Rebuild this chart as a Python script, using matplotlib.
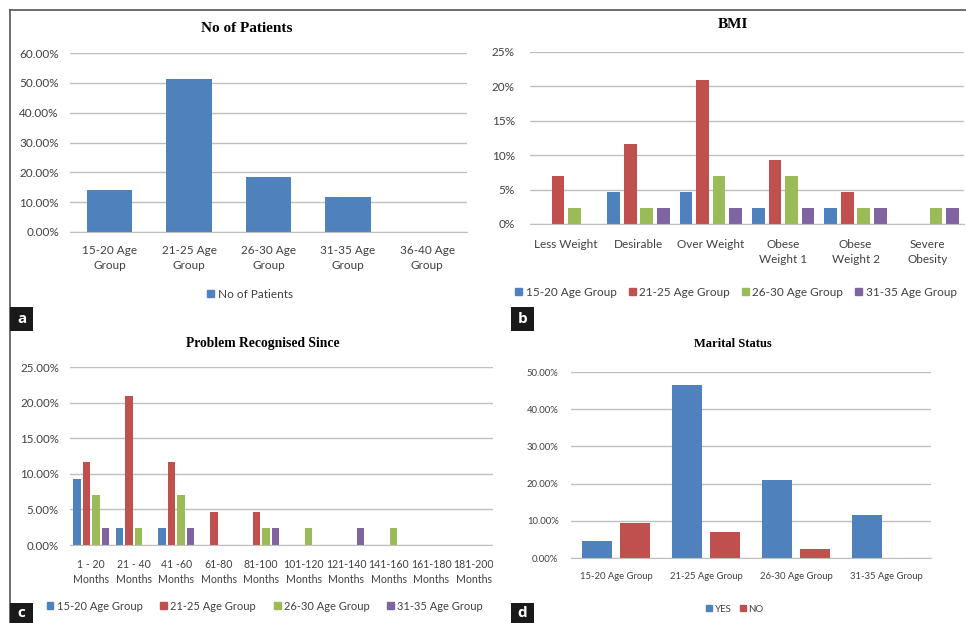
import matplotlib
matplotlib.use("Agg")
import matplotlib.pyplot as plt
from matplotlib.patches import Patch, Rectangle
from matplotlib.lines import Line2D
import numpy as np

W, H = 966, 623

# ---- data (percent of patients, n = 43) ----
age_groups_a = ['15-20 Age\nGroup', '21-25 Age\nGroup', '26-30 Age\nGroup', '31-35 Age\nGroup', '36-40 Age\nGroup']
patients = [13.95, 51.16, 18.60, 11.63, 0.0]

series_names = ['15-20 Age Group', '21-25 Age Group', '26-30 Age Group', '31-35 Age Group']

bmi_cats = ['Less Weight', 'Desirable', 'Over Weight', 'Obese\nWeight 1', 'Obese\nWeight 2', 'Severe\nObesity']
bmi_15_20 = [0.0, 4.65, 4.65, 2.33, 2.33, 0.0]
bmi_21_25 = [6.98, 11.63, 20.93, 9.30, 4.65, 0.0]
bmi_26_30 = [2.33, 2.33, 6.98, 6.98, 2.33, 2.33]
bmi_31_35 = [0.0, 2.33, 2.33, 2.33, 2.33, 2.33]

prob_cats = ['1 - 20\nMonths', '21 - 40\nMonths', '41 -60\nMonths', '61-80\nMonths', '81-100\nMonths',
             '101-120\nMonths', '121-140\nMonths', '141-160\nMonths', '161-180\nMonths', '181-200\nMonths']
prob_15_20 = [9.30, 2.33, 2.33, 0, 0, 0, 0, 0, 0, 0]
prob_21_25 = [11.63, 20.93, 11.63, 4.65, 4.65, 0, 0, 0, 0, 0]
prob_26_30 = [6.98, 2.33, 6.98, 0, 2.33, 2.33, 0, 2.33, 0, 0]
prob_31_35 = [2.33, 0, 2.33, 0, 2.33, 0, 2.33, 0, 0, 0]

marital_cats = ['15-20 Age Group', '21-25 Age Group', '26-30 Age Group', '31-35 Age Group']
married_yes = [4.65, 46.51, 20.93, 11.63]
married_no = [9.30, 6.98, 2.33, 0.0]

colors = ['#4F81BD', '#C0504D', '#9BBB59', '#8064A2']
grid_c = '#BFBFBF'
txt_c = '#404040'

plt.rcParams['font.family'] = ['Lato', 'DejaVu Sans']
serif = ['Liberation Serif', 'DejaVu Serif']

fig = plt.figure(figsize=(W / 100, H / 100), dpi=100)


def px_rect(l, t, r, b):
    return [l / W, 1 - b / H, (r - l) / W, (b - t) / H]


def fx(x):
    return x / W


def fy(y):
    return 1 - y / H


def style(ax, ymax, step, fmt, fs, pad_y, pad_x):
    ax.set_ylim(0, ymax)
    ticks = np.arange(0, ymax + step / 2, step)
    ax.set_yticks(ticks)
    ax.set_yticklabels([fmt % t for t in ticks], fontsize=fs, color=txt_c)
    ax.yaxis.grid(True, color=grid_c, lw=1)
    ax.set_axisbelow(True)
    for s in ['top', 'right', 'left']:
        ax.spines[s].set_visible(False)
    ax.spines['bottom'].set_color(grid_c)
    ax.tick_params(length=0)
    ax.tick_params(axis='y', pad=pad_y)
    ax.tick_params(axis='x', pad=pad_x)


def square_legend(handles, labels, cx, cy, fs, ncol=1, colsp=1.0):
    return fig.legend(handles, labels, loc='center', bbox_to_anchor=(fx(cx), fy(cy)), ncol=ncol,
                      frameon=False, fontsize=fs, handlelength=0.6, handleheight=0.6, handletextpad=0.3,
                      columnspacing=colsp, labelcolor=txt_c)


# ---- panel a ----
ax = fig.add_axes(px_rect(70, 53, 467, 232))
x = np.arange(len(age_groups_a))
ax.bar(x, patients, width=0.57, color=colors[0])
ax.set_xlim(-0.5, len(x) - 0.5)
style(ax, 60, 10, '%.2f%%', 8.5, 8, 9)
ax.set_xticks(x)
ax.set_xticklabels(age_groups_a, fontsize=8.5, color=txt_c, linespacing=1.45)
fig.text(fx(247), fy(28), 'No of Patients', ha='center', va='center', fontsize=11,
         fontweight='bold', family=serif)
square_legend([Patch(color=colors[0])], ['No of Patients'], 250, 294, 8.5)

# ---- panel b ----
ax = fig.add_axes(px_rect(530, 52, 964, 224))
x = np.arange(len(bmi_cats))
for i, vals in enumerate([bmi_15_20, bmi_21_25, bmi_26_30, bmi_31_35]):
    ax.bar(x + (i - 1.5) * 0.23, vals, width=0.175, color=colors[i])
ax.set_xlim(-0.5, len(x) - 0.5)
style(ax, 25, 5, '%d%%', 8.5, 11, 11)
ax.set_xticks(x)
ax.set_xticklabels(bmi_cats, fontsize=8.5, color=txt_c, linespacing=1.45)
fig.text(fx(733), fy(25), 'BMI', ha='center', va='center', fontsize=11, fontweight='bold', family=serif)
square_legend([Patch(color=c) for c in colors], series_names, 736, 292, 8.5, ncol=4, colsp=1.0)

# ---- panel c ----
ax = fig.add_axes(px_rect(70, 367, 495, 545))
x = np.arange(len(prob_cats))
for i, vals in enumerate([prob_15_20, prob_21_25, prob_26_30, prob_31_35]):
    ax.bar(x + (i - 1.5) * 0.226, vals, width=0.18, color=colors[i])
ax.set_xlim(-0.5, len(x) - 0.5)
style(ax, 25, 5, '%.2f%%', 8.3, 8, 10)
ax.set_xticks(x)
ax.set_xticklabels(prob_cats, fontsize=7.6, color=txt_c, linespacing=1.5)
fig.text(fx(263), fy(343), 'Problem Recognised Since', ha='center', va='center', fontsize=9.8,
         fontweight='bold', family=serif)
square_legend([Patch(color=c) for c in colors], series_names, 265, 606, 8, ncol=4, colsp=1.6)

# panel d background hides the overflow of panel c
fig.patches.append(Rectangle((fx(493), 0), 1 - fx(493), fy(320), transform=fig.transFigure,
                             facecolor='white', edgecolor='none', zorder=2))

# ---- panel d ----
ax = fig.add_axes(px_rect(571, 372, 931, 558))
ax.set_zorder(3)
x = np.arange(len(marital_cats))
ax.bar(x - 0.21, married_yes, width=0.334, color=colors[0])
ax.bar(x + 0.21, married_no, width=0.334, color=colors[1])
ax.set_xlim(-0.5, len(x) - 0.5)
style(ax, 50, 10, '%.2f%%', 6.8, 9, 10)
ax.set_xticks(x)
ax.set_xticklabels(marital_cats, fontsize=6.8, color=txt_c)
t = fig.text(fx(733), fy(344), 'Marital Status', ha='center', va='center', fontsize=9,
             fontweight='bold', family=serif)
t.set_zorder(4)
lg = square_legend([Patch(color=colors[0]), Patch(color=colors[1])], ['YES', 'NO'], 735, 609, 7,
                   ncol=2, colsp=0.8)
lg.set_zorder(4)

# ---- frame lines and panel letters ----
fig.lines.append(Line2D([fx(10), 1], [fy(10), fy(10)], transform=fig.transFigure, color='#555555', lw=1.2, zorder=5))
fig.lines.append(Line2D([fx(10), fx(10)], [fy(10), 0], transform=fig.transFigure, color='#555555', lw=1.2, zorder=5))

for letter, (lx, ty, by) in zip('abcd', [(10, 307, 331), (511, 307, 331), (10, 603, 623), (511, 603, 623)]):
    fig.patches.append(Rectangle((fx(lx), fy(by)), 23 / W, (by - ty) / H, transform=fig.transFigure,
                                 facecolor='#1a1a1a', edgecolor='none', zorder=5))
    tt = fig.text(fx(lx + 11.5), fy((ty + by) / 2), letter, ha='center', va='center', color='white',
                  fontsize=11, fontweight='bold', family=['Open Sans', 'DejaVu Sans'])
    tt.set_zorder(6)

fig.savefig('out.png', dpi=100, facecolor='white')
